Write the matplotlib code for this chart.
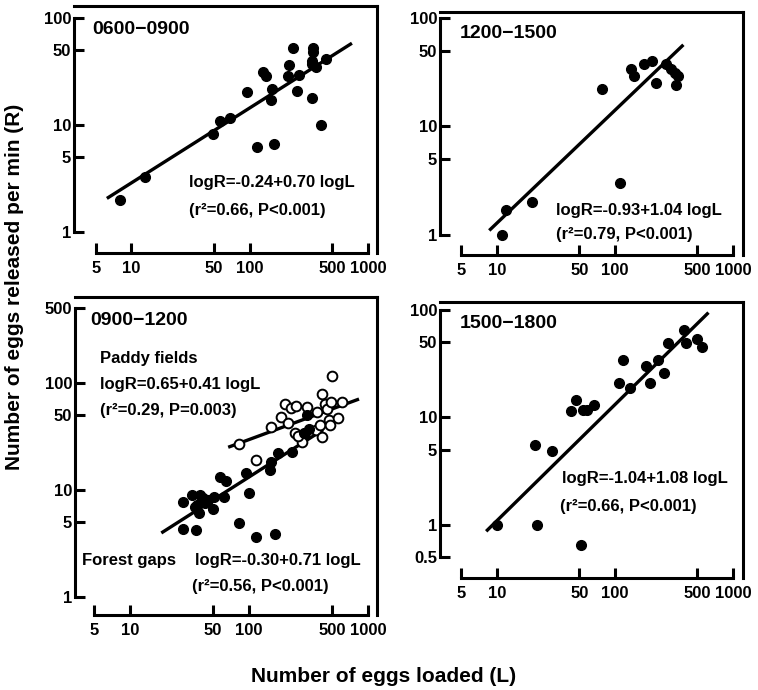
import matplotlib
matplotlib.use("Agg")
import matplotlib.pyplot as plt
import numpy as np

plt.rcParams['font.family'] = ['Liberation Sans', 'DejaVu Sans']
plt.rcParams['font.weight'] = 'bold'

# ---------------- data ----------------
x_ticks = [5, 10, 50, 100, 500, 1000]

# 0600-0900
p1_L = [8, 13, 49, 56, 68, 94, 116, 130, 136, 150, 155, 160, 210, 215, 232, 253, 262, 335, 343, 343, 336, 336, 360, 403, 445]
p1_R = [2.0, 3.3, 8.2, 11, 11.7, 20.5, 6.3, 31, 29, 17, 21.5, 6.6, 29, 36, 52, 21, 29.5, 18, 53, 48, 40, 37, 35, 10, 41]
p1_fit_L = [6.2, 730]
p1_coef = (-0.24, 0.70)

# 1200-1500
p2_L = [11, 12, 20, 77, 110, 138, 145, 176, 204, 223, 272, 300, 320, 326, 344]
p2_R = [1.0, 1.7, 2.0, 22, 3.0, 34, 29, 38, 40, 25, 38, 34, 31, 24, 29]
p2_fit_L = [8.6, 380]
p2_coef = (-0.93, 1.04)

# 0900-1200 forest gaps (filled) and paddy fields (open)
p3f_L = [28, 28, 33, 35, 36, 37, 38, 39, 41, 43, 45, 50, 51, 57, 62, 64, 83, 94, 100, 114, 150, 153, 167, 174, 230, 290, 297, 306, 322]
p3f_R = [7.7, 4.3, 9, 6.9, 4.2, 7.2, 6.1, 9, 8.4, 7.5, 8, 6.6, 8.5, 13.3, 8.5, 12, 4.9, 14.5, 9.4, 3.6, 15.4, 18.4, 3.9, 22, 22.5, 34, 34, 50, 37]
p3p_L = [83, 114, 152, 186, 200, 211, 225, 250, 245, 278, 306, 258, 376, 366, 395, 408, 408, 435, 455, 473, 479, 485, 494, 562, 600]
p3p_R = [27, 19, 39, 48, 63, 42, 58, 61, 34, 28, 60, 32, 53, 36.5, 40, 31, 79, 63, 57, 45, 40, 66, 117, 47, 66]
p3f_fit_L = [18.4, 420]
p3f_coef = (-0.30, 0.71)
p3p_fit_L = [67, 840]
p3p_coef = (0.65, 0.41)

# 1500-1800
p4_L = [10, 21, 22, 29, 42, 47, 52, 54, 58, 67, 108, 118, 135, 183, 198, 230, 262, 282, 385, 398, 500, 543]
p4_R = [1.0, 5.6, 1.0, 4.9, 11.4, 14.4, 0.65, 11.8, 11.8, 13.1, 21, 34, 19, 30, 21, 34, 26, 49, 65, 49, 54, 45]
p4_fit_L = [8.1, 620]
p4_coef = (-1.04, 1.08)

# ---------------- figure ----------------
W, H = 758, 690
fig = plt.figure(figsize=(W / 100, H / 100), dpi=100)


def px_axes(left, top, right, bottom):
    return fig.add_axes([left / W, 1 - bottom / H, (right - left) / W, (bottom - top) / H])


def ftext(x, y, s, size=12, ha='left'):
    fig.text(x / W, 1 - y / H, s, fontsize=size, fontweight='bold', ha=ha, va='center')


def style(ax, xlim, ylim, yticks, ylabels):
    ax.set_xscale('log')
    ax.set_yscale('log')
    ax.set_xlim(*xlim)
    ax.set_ylim(*ylim)
    for s in ax.spines.values():
        s.set_linewidth(2.2)
    ax.spines['left'].set_bounds(yticks[0], yticks[-1])
    ax.spines['bottom'].set_bounds(5, 1000)
    ax.set_xticks(x_ticks)
    ax.set_xticklabels([str(t) for t in x_ticks])
    ax.set_yticks(yticks)
    ax.set_yticklabels(ylabels)
    ax.minorticks_off()
    ax.tick_params(axis='both', which='major', direction='in', length=7, width=2.2,
                   labelsize=12)
    ax.tick_params(axis='y', pad=2)
    ax.tick_params(axis='x', pad=6)
    ax.patch.set_alpha(0)


def fit_line(ax, Lr, coef):
    L = np.array(Lr, dtype=float)
    R = 10 ** (coef[0] + coef[1] * np.log10(L))
    ax.plot(L, R, color='black', lw=2.4, solid_capstyle='butt', zorder=2)


ms = 7

# Panel 1
ax1 = px_axes(74, 6, 377, 253)
style(ax1, (3.27, 1189), (0.638, 129.4), [1, 5, 10, 50, 100], ['1', '5', '10', '50', '100'])
fit_line(ax1, p1_fit_L, p1_coef)
ax1.plot(p1_L, p1_R, 'o', color='black', ms=ms, zorder=3)

# Panel 2
ax2 = px_axes(440, 12, 743, 255)
style(ax2, (3.29, 1216), (0.654, 113.6), [1, 5, 10, 50, 100], ['1', '5', '10', '50', '100'])
fit_line(ax2, p2_fit_L, p2_coef)
ax2.plot(p2_L, p2_R, 'o', color='black', ms=ms, zorder=3)

# Panel 3
ax3 = px_axes(75, 297, 377, 615)
style(ax3, (3.47, 1189), (0.679, 634), [1, 5, 10, 50, 100, 500], ['1', '5', '10', '50', '100', '500'])
fit_line(ax3, p3f_fit_L, p3f_coef)
fit_line(ax3, p3p_fit_L, p3p_coef)
ax3.plot(p3p_L, p3p_R, 'o', mfc='white', mec='black', mew=1.4, ms=ms, zorder=3)
ax3.plot(p3f_L, p3f_R, 'o', color='black', ms=ms, zorder=4)

# Panel 4
ax4 = px_axes(440, 302, 743, 578)
style(ax4, (3.29, 1216), (0.321, 118.7), [0.5, 1, 5, 10, 50, 100], ['0.5', '1', '5', '10', '50', '100'])
fit_line(ax4, p4_fit_L, p4_coef)
ax4.plot(p4_L, p4_R, 'o', color='black', ms=ms, zorder=3)

# Texts
ftext(92, 30, '0600\u22120900', size=14)
ftext(189, 183, 'logR=-0.24+0.70 logL', size=12)
ftext(189, 210, '(r\u00b2=0.66, P<0.001)', size=12)

ftext(460, 33, '1200\u22121500', size=14)
ftext(556, 210, 'logR=-0.93+1.04 logL', size=12)
ftext(556, 235, '(r\u00b2=0.79, P<0.001)', size=12)

ftext(90, 320, '0900\u22121200', size=14)
ftext(100, 358, 'Paddy fields', size=12)
ftext(100, 384, 'logR=0.65+0.41 logL', size=12)
ftext(100, 410, '(r\u00b2=0.29, P=0.003)', size=12)
ftext(82, 560, 'Forest gaps', size=12)
ftext(195, 560, 'logR=-0.30+0.71 logL', size=12)
ftext(192, 586, '(r\u00b2=0.56, P<0.001)', size=12)

ftext(460, 323, '1500\u22121800', size=14)
ftext(562, 479, 'logR=-1.04+1.08 logL', size=12)
ftext(560, 507, '(r\u00b2=0.66, P<0.001)', size=12)

fig.text(384 / W, 1 - 677 / H, 'Number of eggs loaded (L)', fontsize=15, fontweight='bold',
         ha='center', va='center')
fig.text(15 / W, 1 - 287 / H, 'Number of eggs released per min (R)', fontsize=15,
         fontweight='bold', ha='center', va='center', rotation=90)

fig.savefig('out.png', dpi=100)
